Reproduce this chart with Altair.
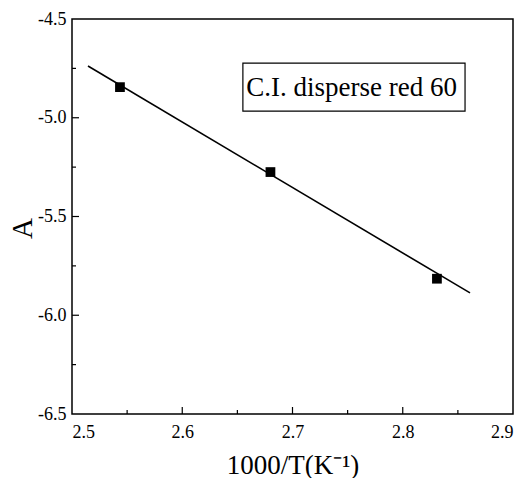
import altair as alt
import pandas as pd

# measured points
x_pts = [2.5435, 2.680, 2.831]
y_pts = [-4.845, -5.275, -5.815]

# fitted line endpoints
x_line = [2.5145, 2.861]
y_line = [-4.738, -5.887]

# tick values
x_major = [2.5, 2.6, 2.7, 2.8, 2.9]
x_minor = [2.55, 2.65, 2.75, 2.85]
y_major = [-6.5, -6.0, -5.5, -5.0, -4.5]
y_minor = [-6.25, -5.75, -5.25, -4.75]

label_text = "C.I. disperse red 60"
box_x = [2.655, 2.8565]
box_y = [-4.723, -4.966]

W, H = 441, 395
FONT = "Liberation Serif"

xs = alt.Scale(domain=[2.5, 2.9], nice=False, zero=False)
ys = alt.Scale(domain=[-6.5, -4.5], nice=False, zero=False)

pts = pd.DataFrame({"x": x_pts, "y": y_pts})
line_df = pd.DataFrame({"x": x_line, "y": y_line})

base_axes = alt.Chart(pts).mark_point(opacity=0).encode(
    x=alt.X("x:Q", scale=xs,
            axis=alt.Axis(values=x_major, format=".1f", ticks=False, grid=False, domain=False,
                          labelFont=FONT, labelFontSize=18, labelColor="black", labelPadding=9,
                          title="1000/T(K⁻¹)", titleFont=FONT, titleFontSize=27,
                          titleFontWeight="normal", titleColor="black",
                          titleX=W / 2, titleY=59, titleBaseline="alphabetic", titleAlign="center")),
    y=alt.Y("y:Q", scale=ys,
            axis=alt.Axis(values=y_major, ticks=False, grid=False, domain=False,
                          labelExpr="replace(format(datum.value, '.1f'), '−', '-')",
                          labelFont=FONT, labelFontSize=18, labelColor="black", labelPadding=6,
                          title="A", titleFont=FONT, titleFontSize=29,
                          titleFontWeight="normal", titleColor="black",
                          titleX=-50, titleY=209, titleBaseline="middle", titleAlign="center",
                          titleAngle=270)),
)

line = alt.Chart(line_df).mark_line(color="black", strokeWidth=1.6).encode(
    x=alt.X("x:Q", scale=xs), y=alt.Y("y:Q", scale=ys))

squares = alt.Chart(pts).mark_square(color="black", opacity=1, size=95).encode(
    x=alt.X("x:Q", scale=xs), y=alt.Y("y:Q", scale=ys))

xmaj = pd.DataFrame({"v": x_major[1:-1]})
xmin = pd.DataFrame({"v": x_minor})
ymaj = pd.DataFrame({"v": y_major[1:-1]})
ymin = pd.DataFrame({"v": y_minor})

xticks_major = alt.Chart(xmaj).mark_rule(color="black", strokeWidth=1.2).encode(
    x=alt.X("v:Q", scale=xs), y=alt.value(H), y2=alt.value(H - 7))
xticks_minor = alt.Chart(xmin).mark_rule(color="black", strokeWidth=1.2).encode(
    x=alt.X("v:Q", scale=xs), y=alt.value(H), y2=alt.value(H - 4))
yticks_major = alt.Chart(ymaj).mark_rule(color="black", strokeWidth=1.2).encode(
    y=alt.Y("v:Q", scale=ys), x=alt.value(0), x2=alt.value(7))
yticks_minor = alt.Chart(ymin).mark_rule(color="black", strokeWidth=1.2).encode(
    y=alt.Y("v:Q", scale=ys), x=alt.value(0), x2=alt.value(4))

box_df = pd.DataFrame({"x": [box_x[0]], "x2": [box_x[1]], "y": [box_y[0]], "y2": [box_y[1]]})
box = alt.Chart(box_df).mark_rect(fill="white", stroke="black", strokeWidth=1.2).encode(
    x=alt.X("x:Q", scale=xs), x2="x2:Q", y=alt.Y("y:Q", scale=ys), y2="y2:Q")

txt_df = pd.DataFrame({"x": [box_x[0] + 0.003], "y": [(box_y[0] + box_y[1]) / 2], "t": [label_text]})
txt = alt.Chart(txt_df).mark_text(font=FONT, fontSize=27, align="left", baseline="middle",
                                  color="black", dy=1).encode(
    x=alt.X("x:Q", scale=xs), y=alt.Y("y:Q", scale=ys), text="t:N")

chart = alt.layer(base_axes, line, squares, xticks_major, xticks_minor,
                  yticks_major, yticks_minor, box, txt).properties(
    width=W, height=H,
    background="white",
    autosize=alt.AutoSizeParams(type="none"),
    padding={"left": 64, "top": 11, "right": 4, "bottom": 64},
).configure_view(stroke="black", strokeWidth=1.5).configure_axis(
    labelFont=FONT, titleFont=FONT)

chart.save("out.html", embed_options={"renderer": "svg", "actions": False})
